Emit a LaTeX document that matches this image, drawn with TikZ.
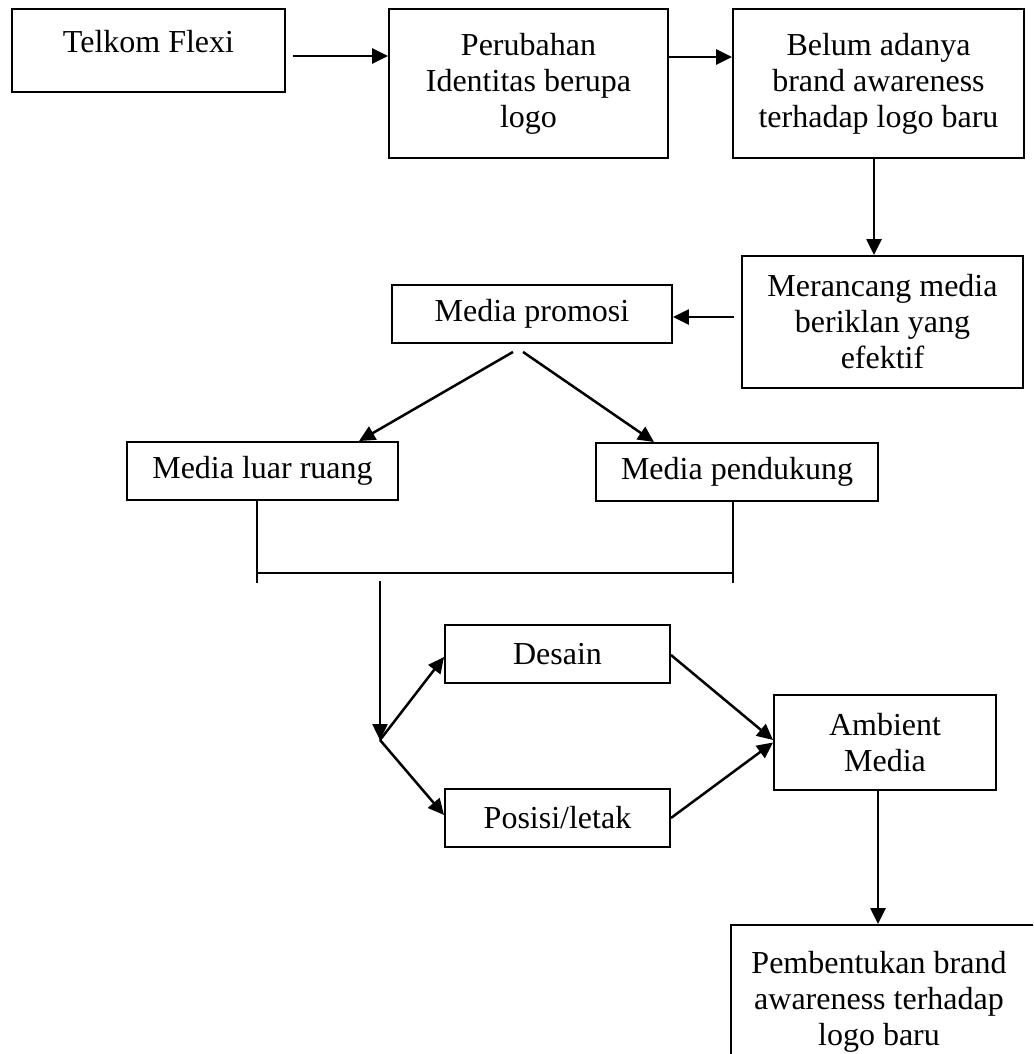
\documentclass[tikz,border=0pt]{standalone}
\usepackage{fontspec}
\setmainfont{Liberation Serif}
\usetikzlibrary{arrows.meta}
\begin{document}
\begin{tikzpicture}[x=1pt,y=-1pt,
  box/.style={draw, line width=1.9pt, inner sep=0pt, align=center, font=\fontsize{32}{36}\selectfont},
  txt/.style={inner sep=0pt, align=center, font=\fontsize{32}{36}\selectfont},
  arr/.style={line width=2.5pt, -{Triangle[length=16pt,width=15pt]}},
  thinline/.style={line width=1.5pt}]
\useasboundingbox (0,0) rectangle (1033,1054);
\clip (0,0) rectangle (1033,1054);
\fill[white] (0,0) rectangle (1033,1054);

\node[box, minimum width=273pt, minimum height=83pt] (tf) at (148.5,50.5) {};
\node[txt, anchor=base] (tft) at (148.5,53) {Telkom Flexi};
\node[box, minimum width=279pt, minimum height=149pt] (pi) at (528.5,83.5) {Perubahan\\Identitas berupa\\logo};
\node[box, minimum width=291pt, minimum height=149pt] (ba) at (878.5,83.5) {Belum adanya\\brand awareness\\terhadap logo baru};
\node[box, minimum width=281pt, minimum height=132pt] (mr) at (882.5,322) {Merancang media\\beriklan yang\\efektif};
\node[box, minimum width=280pt, minimum height=58pt] (mp) at (532,314) {\raisebox{-3pt}{Media promosi}};
\node[box, minimum width=271pt, minimum height=58pt] (ml) at (262.5,471) {\raisebox{-2pt}{Media luar ruang}};
\node[box, minimum width=282pt, minimum height=58pt] (mpd) at (737,472) {Media pendukung};
\node[box, minimum width=225pt, minimum height=58pt] (ds) at (557.5,654) {Desain};
\node[box, minimum width=225pt, minimum height=58pt] (ps) at (557.5,818) {Posisi/letak};
\node[box, minimum width=222pt, minimum height=95pt] (am) at (885,742.5) {Ambient\\Media};
\node[box, minimum width=309pt, minimum height=134pt] (pb) at (885.5,992) {};
\node[txt] (pbt) at (879,1002) {Pembentukan brand\\awareness terhadap\\logo baru};

\draw[arr] ([shift={(7,5.5)}]tf.east) -- ([shift={(0,-27.5)}]pi.west);
\draw[arr] ([shift={(0,-26.5)}]pi.east) -- ([shift={(0,-26.5)}]ba.west);
\draw[arr] ([xshift=-4.5pt]ba.south) -- ([xshift=-8.5pt]mr.north);
\draw[arr] ([shift={(-7,-5)}]mr.west) -- ([shift={(0,3)}]mp.east);
\draw[arr] ([shift={(-19,8)}]mp.south) -- ([shift={(96.5,0)}]ml.north);
\draw[arr] ([shift={(-9,8)}]mp.south) -- ([shift={(-83,0)}]mpd.north);

\coordinate (bl) at (257,573);
\coordinate (brr) at (733,573);
\draw[thinline] ([xshift=-5.5pt]ml.south) -- ++(0,82);
\draw[thinline] ([xshift=-4pt]mpd.south) -- ++(0,81);
\draw[thinline] (bl) -- (brr);

\coordinate (dtop) at (380,581);
\coordinate (fork) at (380,740);
\draw[arr] (dtop) -- (fork);
\draw[arr] (fork) -- ([shift={(0,3)}]ds.west);
\draw[arr] (fork) -- ([shift={(0,-3)}]ps.west);
\draw[arr] ([shift={(0,1)}]ds.east) -- ([shift={(0,-2.5)}]am.west);
\draw[arr] (ps.east) -- (am.west);
\draw[arr] ([xshift=-7pt]am.south) -- ([xshift=-7.5pt]pb.north);
\end{tikzpicture}
\end{document}
